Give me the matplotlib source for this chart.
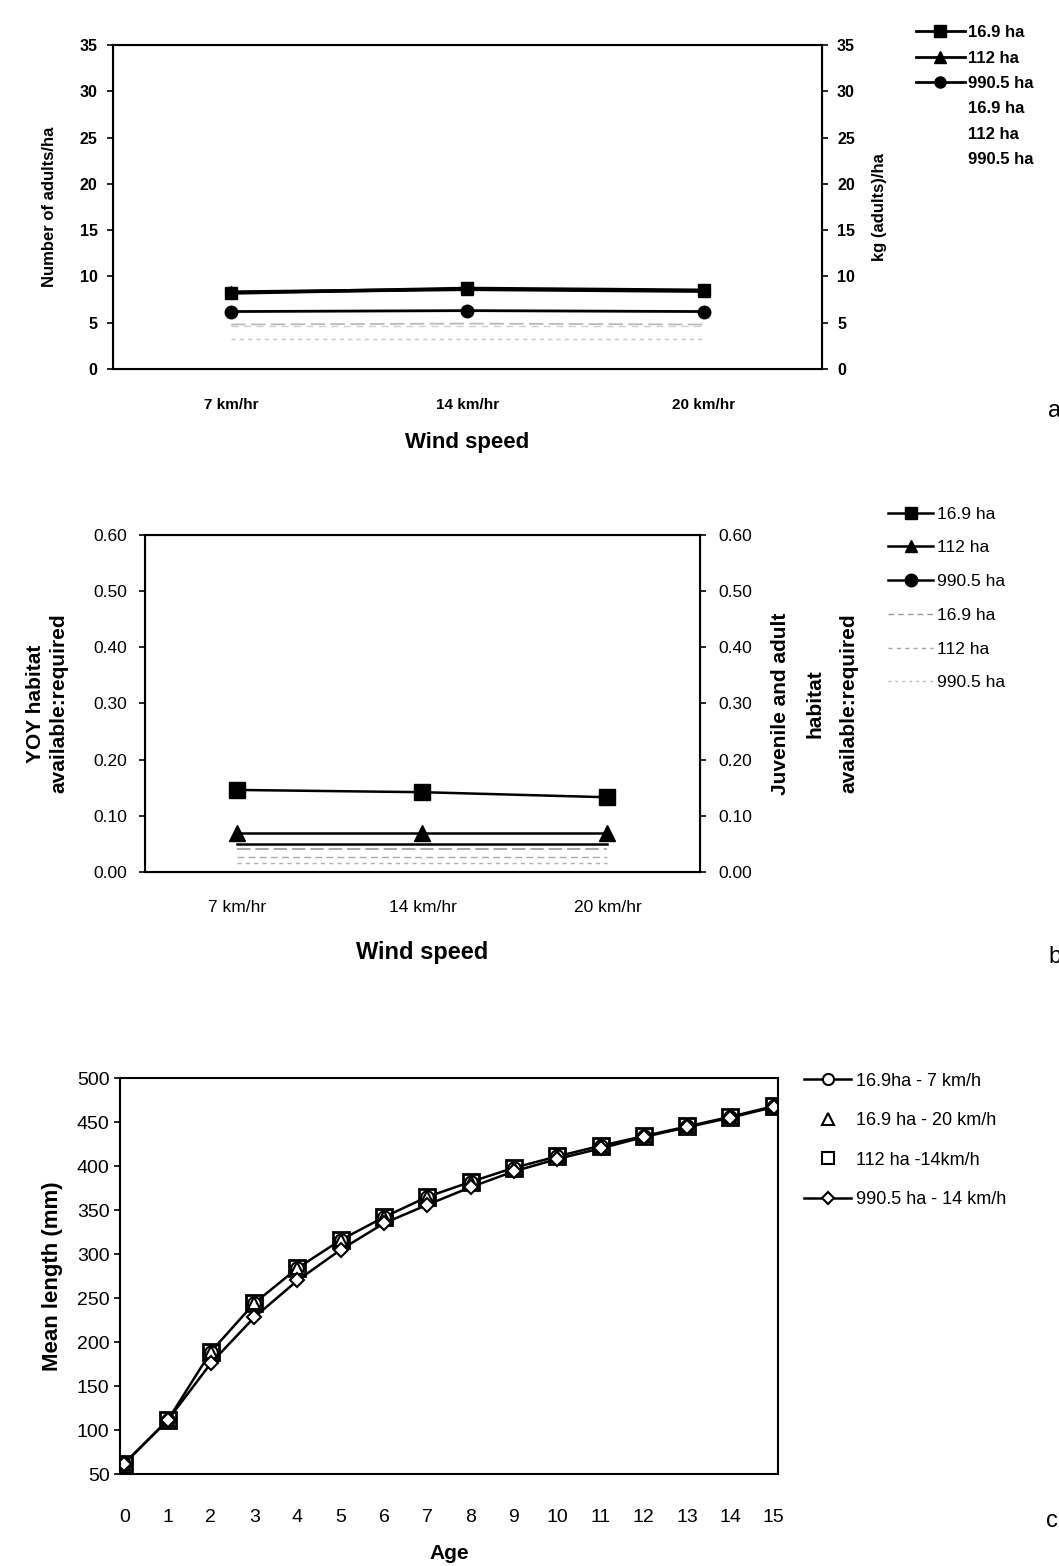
import matplotlib
matplotlib.use('Agg')
import matplotlib.pyplot as plt
from matplotlib.lines import Line2D

plt.rcParams['font.family'] = ['Liberation Sans', 'DejaVu Sans']

# panel a: adults per ha and kg per ha
wind = ['7 km/hr', '14 km/hr', '20 km/hr']
a_num_169 = [8.2, 8.7, 8.5]
a_num_112 = [8.3, 8.6, 8.4]
a_num_9905 = [6.2, 6.3, 6.2]
a_kg_169 = [4.8, 4.9, 4.8]
a_kg_112 = [4.6, 4.6, 4.6]
a_kg_9905 = [3.2, 3.2, 3.2]

# panel b: habitat available:required
b_yoy_169 = [0.146, 0.142, 0.133]
b_yoy_112 = [0.069, 0.069, 0.069]
b_yoy_9905 = [0.050, 0.050, 0.050]
b_juv_169 = [0.041, 0.041, 0.041]
b_juv_112 = [0.027, 0.027, 0.027]
b_juv_9905 = [0.016, 0.016, 0.016]

# panel c: mean length by age
age = list(range(16))
c_upper = [62, 111, 189, 244, 284, 316, 342, 365, 382, 398, 411, 423, 434, 445, 456, 468]
c_lower = [62, 111, 176, 228, 270, 305, 335, 356, 376, 394, 408, 420, 433, 444, 455, 467]

fig = plt.figure(figsize=(10.59, 15.66), dpi=100)
x = range(len(wind))

# ---------------- panel a
ax = fig.add_axes([0.1067, 0.7644, 0.6693, 0.2069])
ax2 = ax.twinx()
ax.plot(x, a_num_112, color='black', lw=2.5, marker='^', ms=9)
ax.plot(x, a_num_169, color='black', lw=2.5, marker='s', ms=9)
ax.plot(x, a_num_9905, color='black', lw=2, marker='o', ms=9)
ax2.plot(x, a_kg_169, color='#bbbbbb', lw=1.3, ls=(0, (8, 3)))
ax2.plot(x, a_kg_112, color='#d0d0d0', lw=1.0, ls=(0, (5, 4)))
ax2.plot(x, a_kg_9905, color='#c8c8c8', lw=1.0, ls=(0, (3, 3)))
for a_ in (ax, ax2):
    a_.set_ylim(0, 35)
    a_.set_yticks(range(0, 36, 5))
    a_.tick_params(labelsize=11.5, length=4, width=1.2, pad=7)
    for lbl in a_.get_yticklabels():
        lbl.set_fontweight('bold')
ax.set_xlim(-0.5, 2.5)
ax.set_xticks(list(x))
ax.set_xticklabels(wind, fontsize=11, fontweight='bold')
ax.tick_params(axis='x', length=0, pad=21)
for sp in ax.spines.values():
    sp.set_linewidth(1.5)
ax.set_ylabel('Number of adults/ha', fontsize=12, fontweight='bold', labelpad=16)
ax2.set_ylabel('kg (adults)/ha', fontsize=12, fontweight='bold', labelpad=12)
ax.set_xlabel('Wind speed', fontsize=16, fontweight='bold', labelpad=14)

hA = [Line2D([], [], color='black', lw=2, marker='s', ms=8),
      Line2D([], [], color='black', lw=2, marker='^', ms=8),
      Line2D([], [], color='black', lw=2, marker='o', ms=8),
      Line2D([], [], color='white', lw=1),
      Line2D([], [], color='white', lw=1),
      Line2D([], [], color='white', lw=1)]
fig.legend(hA, ['16.9 ha', '112 ha', '990.5 ha', '16.9 ha', '112 ha', '990.5 ha'],
           loc='upper left', bbox_to_anchor=(0.851, 0.9935), frameon=False,
           handlelength=2.9, handletextpad=0.2, labelspacing=0.62,
           prop={'weight': 'bold', 'size': 12})
fig.text(0.99, 0.734, 'a', fontsize=17)

# ---------------- panel b
bx = fig.add_axes([0.1369, 0.4432, 0.5241, 0.2152])
bx2 = bx.twinx()
bx.plot(x, b_yoy_169, color='black', lw=1.8, marker='s', ms=11)
bx.plot(x, b_yoy_9905, color='black', lw=1.8, marker='o', ms=0)
bx.plot(x, b_yoy_112, color='black', lw=1.8, marker='^', ms=12)
bx2.plot(x, b_juv_169, color='#999999', lw=1.2, ls=(0, (8, 3)))
bx2.plot(x, b_juv_112, color='#aaaaaa', lw=1.0, ls=(0, (5, 3)))
bx2.plot(x, b_juv_9905, color='#b0b0b0', lw=1.0, ls=(0, (3, 3)))
for b_ in (bx, bx2):
    b_.set_ylim(0, 0.6)
    b_.set_yticks([0, 0.1, 0.2, 0.3, 0.4, 0.5, 0.6])
    b_.set_yticklabels(['0.00', '0.10', '0.20', '0.30', '0.40', '0.50', '0.60'])
    b_.tick_params(labelsize=12.5, length=4, width=1.2, pad=9)
bx.set_xlim(-0.5, 2.5)
bx.set_xticks(list(x))
bx.set_xticklabels(wind, fontsize=12.5)
bx.tick_params(axis='x', length=0, pad=20)
for sp in bx.spines.values():
    sp.set_linewidth(1.5)
bx.set_ylabel('YOY habitat\navailable:required', fontsize=15, fontweight='bold',
              labelpad=18, linespacing=1.3)
bx2.set_ylabel('Juvenile and adult\nhabitat\navailable:required', fontsize=15,
               fontweight='bold', labelpad=14, linespacing=2.0)
bx.set_xlabel('Wind speed', fontsize=17, fontweight='bold', labelpad=19)

hB = [Line2D([], [], color='black', lw=1.8, marker='s', ms=9),
      Line2D([], [], color='black', lw=1.8, marker='^', ms=9),
      Line2D([], [], color='black', lw=1.8, marker='o', ms=9),
      Line2D([], [], color='#999999', lw=1, ls=(0, (4, 3))),
      Line2D([], [], color='#aaaaaa', lw=1, ls=(0, (3, 3))),
      Line2D([], [], color='#bbbbbb', lw=1, ls=(0, (2, 3)))]
fig.legend(hB, ['16.9 ha', '112 ha', '990.5 ha', '16.9 ha', '112 ha', '990.5 ha'],
           loc='upper left', bbox_to_anchor=(0.824, 0.6865), frameon=False,
           fontsize=12.5, handlelength=2.6, handletextpad=0.2, labelspacing=1.07)
fig.text(0.99, 0.385, 'b', fontsize=17)

# ---------------- panel c
cx = fig.add_axes([0.1133, 0.0587, 0.6214, 0.2529])
cx.plot(age, c_upper, color='black', lw=1.8, marker='o', ms=9, mfc='white', mew=1.5)
cx.plot(age, c_upper, ls='none', color='black', marker='^', ms=9, mfc='white', mew=1.5)
cx.plot(age, c_upper, ls='none', color='black', marker='s', ms=11, mfc='none', mew=2)
cx.plot(age, c_lower, color='black', lw=1.8, marker='D', ms=7, mfc='white', mew=1.5)
cx.set_xlim(-0.1, 15.1)
cx.set_ylim(50, 500)
cx.set_xticks(age)
cx.set_yticks(range(50, 501, 50))
cx.tick_params(labelsize=14, length=4, width=1.2)
cx.tick_params(axis='x', length=0, pad=25)
for sp in cx.spines.values():
    sp.set_linewidth(1.5)
cx.set_ylabel('Mean length (mm)', fontsize=16, fontweight='bold', labelpad=10)
cx.set_xlabel('Age', fontsize=15, fontweight='bold', labelpad=13)

hC = [Line2D([], [], color='black', lw=1.8, marker='o', ms=8, mfc='white', mew=1.5),
      Line2D([], [], color='black', ls='none', marker='^', ms=8, mfc='white', mew=1.5),
      Line2D([], [], color='black', ls='none', marker='s', ms=8, mfc='white', mew=1.5),
      Line2D([], [], color='black', lw=1.8, marker='D', ms=6, mfc='white', mew=1.5)]
fig.legend(hC, ['16.9ha - 7 km/h', '16.9 ha - 20 km/h', '112 ha -14km/h', '990.5 ha - 14 km/h'],
           loc='upper left', bbox_to_anchor=(0.744, 0.3255), frameon=False,
           fontsize=13, handlelength=2.6, handletextpad=0.25, labelspacing=1.25)
fig.text(0.988, 0.025, 'c', fontsize=17)

plt.savefig('out.png', dpi=100)
plt.close()
